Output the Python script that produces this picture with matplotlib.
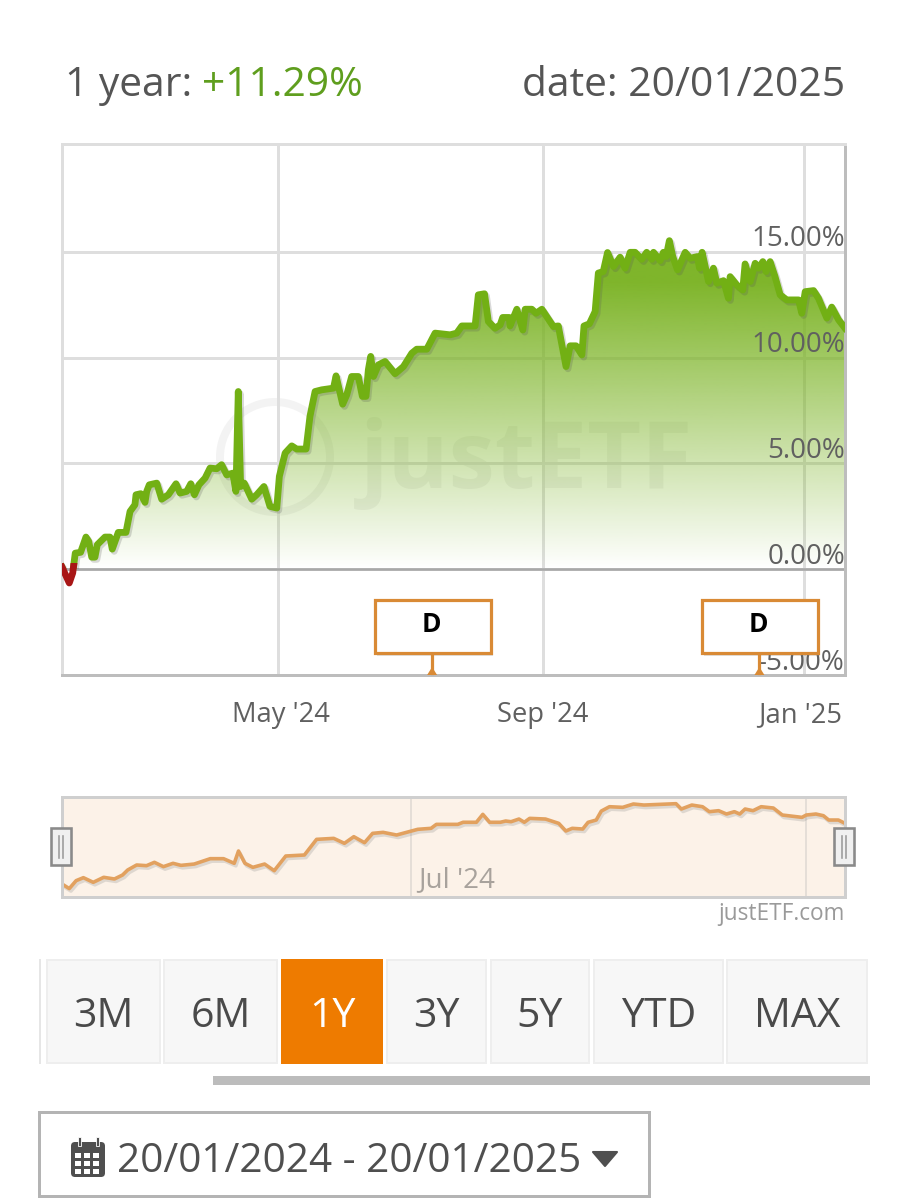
import matplotlib
matplotlib.use("Agg")
import numpy as np
import matplotlib.pyplot as plt
from matplotlib.patches import Rectangle, Circle, Polygon, PathPatch, FancyBboxPatch
from matplotlib.path import Path
import matplotlib.patheffects as pe

plt.rcParams['font.family'] = ['Open Sans', 'DejaVu Sans']

# ---------- data ----------
days = [0, 3.4, 5, 6.2, 8.7, 11.2, 12.5, 13.9, 15.4, 16.5, 20.1, 22.4, 23.5, 26.3, 29.9, 31.8, 34.1, 34.6, 36.8,
        38.8, 39.6, 40.8, 44.3, 46.6, 49.7, 53.3, 55.2, 58.3, 60.2, 61.9, 64, 66.9, 69.2, 72.3, 74.6, 77, 79.8,
        81.3, 82.4, 83.5, 85.2, 88.7, 91, 94.4, 97.2, 100.4, 101.6, 104.3, 107.4, 109.7, 114.1, 115.9, 118.3,
        121.4, 126.9, 128.1, 130, 131.2, 133.1, 135.4, 138.5, 140.4, 142.1, 143.2, 144.3, 145.6, 147.9, 151,
        155.7, 159.6, 163.5, 165.8, 170.5, 174.4, 181.4, 184.5, 186.9, 193.1, 194.6, 197.5, 199.3, 202.4, 204.8,
        206, 209.1, 209.4, 212.6, 215.4, 216.5, 219.6, 221.6, 224.3, 226.6, 229.7, 232, 235.6, 237.5, 240.3, 243,
        244, 246.5, 249.2, 250.7, 253, 255, 257.8, 260.9, 263.2, 265.6, 267.9, 271, 273.3, 275.7, 276.5, 279.6,
        281.1, 282.4, 283.9, 285.5, 287.7, 291.3, 293.6, 297, 298, 299.2, 302.2, 304.5, 306.1, 309.2, 311.5,
        312.3, 315.4, 318.2, 319.3, 321.7, 324, 325.6, 327.6, 329.1, 331, 333.3, 335.7, 338.8, 344.3, 345.8,
        347.4, 351.3, 353.6, 357.5, 359.8, 363, 366]
returns = [0.10, -0.65, -0.18, 0.76, 0.80, 1.52, 1.31, 0.57, 0.57, 1.16, 1.52, 1.52, 0.95, 1.74, 1.74, 2.73, 3.05,
           3.52, 3.57, 3.16, 3.68, 3.99, 4.07, 3.31, 3.52, 4.04, 3.60, 3.68, 4.04, 3.52, 3.99, 4.31, 4.78, 4.75,
           4.94, 4.46, 4.54, 3.68, 8.40, 3.91, 4.07, 3.31, 3.52, 3.91, 2.97, 2.89, 4.39, 5.49, 5.83, 5.68, 5.68,
           7.22, 8.40, 8.48, 8.56, 9.14, 8.32, 7.80, 8.24, 9.11, 9.11, 8.17, 8.17, 9.43, 10.06, 9.11, 9.66, 9.82,
           9.24, 9.58, 10.21, 10.40, 10.40, 11.16, 11.08, 11.16, 11.50, 11.50, 12.97, 13.02, 11.71, 11.39, 11.55,
           11.90, 11.90, 11.50, 12.29, 11.31, 12.29, 12.29, 12.10, 12.29, 11.94, 11.47, 11.50, 9.58, 10.56, 10.56,
           10.13, 11.50, 11.60, 12.18, 14.0, 14.07, 14.97, 14.31, 14.75, 14.23, 14.98, 14.98, 14.65, 14.98, 14.65,
           14.98, 14.59, 14.98, 14.78, 15.53, 14.78, 14.15, 14.98, 14.70, 14.78, 14.23, 14.98, 13.60, 14.23, 13.52,
           13.64, 12.81, 13.83, 13.44, 13.20, 14.43, 13.60, 14.46, 14.23, 14.54, 14.07, 14.54, 13.83, 12.97, 12.73,
           12.73, 12.10, 13.12, 13.17, 12.81, 11.87, 12.39, 11.79, 11.40]

nav_days = [0, 3.4, 6.6, 10, 14.6, 19.5, 24.5, 28.3, 30.7, 34.9, 39.5, 43.2, 47.4, 51.9, 55.6, 61.8, 69.3, 75.5,
            80.5, 82.5, 85.5, 89.2, 94.7, 99.2, 104.6, 113.3, 119, 127, 132, 136.4, 141.4, 145.2, 150.1, 156.4,
            166.3, 172.5, 175, 185, 187.5, 193.7, 196.7, 199.9, 204.9, 207.4, 209.9, 213.6, 216.1, 218.6, 226,
            232.2, 235.5, 238.5, 243.4, 245.9, 249.7, 252.1, 255.9, 262.1, 267.1, 272, 287, 289.5, 294.4, 299.4,
            302.6, 306.9, 310.6, 314.3, 316.8, 319.3, 323, 326.8, 332.5, 336.7, 345.9, 347.9, 352.4, 355.9, 358.4,
            362.9, 366]
nav_returns = [0.18, -0.7, 0.82, 1.39, 0.50, 1.46, 1.14, 1.90, 2.86, 3.82, 3.69, 4.33, 3.50, 4.14, 3.75, 4.0, 5.03,
               5.03, 4.14, 6.50, 4.14, 3.37, 4.0, 2.73, 5.54, 5.73, 8.73, 8.92, 7.97, 9.24, 8.09, 9.88, 10.07, 9.56,
               10.65, 10.84, 11.6, 11.6, 12.0, 12.0, 13.52, 12.0, 12.0, 12.24, 12.11, 12.62, 12.0, 12.75, 12.62,
               11.79, 10.33, 10.84, 10.71, 11.99, 12.43, 14.15, 14.98, 14.86, 15.5, 15.3, 15.56, 14.54, 15.3, 14.98,
               14.03, 14.22, 13.58, 14.03, 13.58, 14.54, 14.22, 14.98, 14.73, 13.39, 12.94, 13.39, 13.58, 13.26,
               12.43, 12.43, 11.79]

ytick_values = [-5, 0, 5, 10, 15]
ytick_labels = ['-5.00%', '0.00%', '5.00%', '10.00%', '15.00%']
xtick_days = [101, 224.9, 347]
xtick_labels = ["May '24", "Sep '24", "Jan '25"]
nav_tick_days = [163, 348]
nav_tick_labels = ["Jul '24", ""]
flag_days = [173, 326]
flag_labels = ['D', 'D']
range_buttons = ['3M', '6M', '1Y', '3Y', '5Y', 'YTD', 'MAX']
active_range = '1Y'
period_return = '+11.29%'
date_text = 'date: 20/01/2025'
date_range = '20/01/2024 - 20/01/2025'

# ---------- figure ----------
W, H = 908, 1200
fig = plt.figure(figsize=(W / 100, H / 100), dpi=100, facecolor='white')


def axpx(x0, y0, x1, y1, **kw):
    return fig.add_axes([x0 / W, 1 - y1 / H, (x1 - x0) / W, (y1 - y0) / H], **kw)


GREY = '#606060'
GRID = '#dedede'
px = 72 / 100  # points per pixel

# ---------- main chart ----------
ax = axpx(62, 144, 845, 675)
ax.set_xlim(0, 366)
ax.set_ylim(-5, 20.1)
ax.set_yticks(ytick_values)
ax.set_xticks(xtick_days)
ax.set_xticklabels([])
ax.tick_params(length=0, labelleft=False)
ax.grid(True, color=GRID, lw=3 * px, zorder=0)
ax.set_axisbelow(True)
for name, col in (('left', GRID), ('top', GRID), ('right', '#bdbdbd'), ('bottom', '#bdbdbd')):
    ax.spines[name].set_color(col)
    ax.spines[name].set_linewidth(3 * px)
ax.axhline(0, color='#a8a8a8', lw=2.6 * px, zorder=1)

# gradient fill clipped to the area under the line
x_arr, y_arr = np.array(days), np.array(returns)
verts = np.vstack([[x_arr[0], 0], np.column_stack([x_arr, np.maximum(y_arr, 0)]), [x_arr[-1], 0]])
area = PathPatch(Path(verts), fc='none', ec='none', transform=ax.transData)
ax.add_patch(area)
grad = np.zeros((256, 1, 4))
grad[..., :3] = matplotlib.colors.to_rgb('#7bb324')
grad[:, 0, 3] = np.clip(np.linspace(1.12, 0, 256), 0, 0.97) ** 1.0
im = ax.imshow(grad, extent=(0, 366, 0, 15.6), aspect='auto', origin='upper', zorder=2)
im.set_clip_path(area)
ax.set_xlim(0, 366)
ax.set_ylim(-5, 20.1)

# watermark
fig.add_artist(Circle((275, H - 457), 55, transform=None, fc='none', ec='#8c8c8c', alpha=0.10, lw=8 * px, zorder=2.5))
fig.text(360 / W, 1 - 488 / H, 'justETF', fontsize=67, fontweight='bold', color='#808080', alpha=0.10, zorder=2.5)
ax.set_zorder(3)
ax.patch.set_alpha(0)

# line: green above zero, red below
shadow = [pe.SimpleLineShadow(offset=(1.4, -1.6), shadow_color='#555555', alpha=0.22), pe.Normal()]
g, = ax.plot(days, returns, color='#72b014', lw=6.8 * px, solid_joinstyle='round', zorder=4, path_effects=shadow)
g.set_clip_path(Rectangle((0, 0), 366, 30, transform=ax.transData))
r, = ax.plot(days, returns, color='#a81616', lw=6.8 * px, solid_joinstyle='round', zorder=4)
r.set_clip_path(Rectangle((0, -6), 366, 6.3, transform=ax.transData))

# axis texts
for v, t in zip(ytick_values, ytick_labels):
    ax.annotate(t, xy=(1, v), xycoords=('axes fraction', 'data'), xytext=(0, 5.5), textcoords='offset pixels',
                ha='right', va='baseline', fontsize=20, color=GREY, zorder=6, annotation_clip=False)
for d, t, dx in zip(xtick_days, xtick_labels, (3, 0, -4)):
    ax.annotate(t, xy=(d, 0), xycoords=('data', 'axes fraction'), xytext=(dx, -47), textcoords='offset pixels',
                ha='center', va='baseline', fontsize=19.7, color=GREY, annotation_clip=False)

# overlay in pixel coordinates
ov = fig.add_axes([0, 0, 1, 1], facecolor='none')
ov.set_xlim(0, W)
ov.set_ylim(H, 0)
ov.axis('off')
ov.set_zorder(5)

# dividend flags
fig.canvas.draw()
for d, t in zip(flag_days, flag_labels):
    xp = ax.transData.transform((d, -5))[0]
    ov.plot([xp, xp], [653, 673], color='#d98a35', lw=3.2 * px, zorder=3)
    ov.add_patch(Polygon([[xp - 5, 675], [xp + 5, 675], [xp, 667]], fc='#d98a35', ec='none', zorder=3))
    ov.add_patch(Rectangle((xp - 57 + 2, 600 + 3), 116, 53, fc='#777777', ec='none', alpha=0.22, zorder=2.8))
    ov.add_patch(Rectangle((xp - 57, 600), 116, 53, fc='white', ec='#d98a35', lw=3.2 * px, zorder=3))
    ov.text(xp - 1, 625, t, fontsize=19, fontweight='bold', color='black', ha='center', va='center', zorder=4)

# ---------- navigator ----------
nav = axpx(62, 797, 845, 897)
nav.set_xlim(0, 366)
nav.set_ylim(-2.31, 16.84)
nav.set_facecolor('#fcf2e8')
nav.set_xticks(nav_tick_days)
nav.set_xticklabels([])
nav.set_yticks([])
nav.tick_params(length=0)
nav.grid(True, axis='x', color='#e0dad3', lw=1.6 * px)
nav.set_axisbelow(True)
for s in nav.spines.values():
    s.set_color('#cfcfcf')
    s.set_linewidth(3 * px)
nav.plot(nav_days, nav_returns, color='#e2a15f', lw=3.6 * px, solid_joinstyle='round',
         path_effects=[pe.SimpleLineShadow(offset=(1.2, -1.8), shadow_color='#888888', alpha=0.25), pe.Normal()])
for d, t in zip(nav_tick_days, nav_tick_labels):
    if t:
        nav.annotate(t, xy=(d, 0), xycoords=('data', 'axes fraction'), xytext=(7, 10), textcoords='offset pixels',
                     ha='left', va='baseline', fontsize=20, color='#a8a29c')
ov.text(845, 914, 'justETF.com', fontsize=16.3, color='#9a9a9a', ha='right', va='center')
for x0 in (51, 834):
    ov.add_patch(Rectangle((x0, 828), 20, 37, fc='#f0f0f0', ec='#8a8a8a', lw=2.6 * px, zorder=6))
    ov.plot([x0 + 8, x0 + 8], [836, 858], color='#9a9a9a', lw=1.6 * px, zorder=7)
    ov.plot([x0 + 12, x0 + 12], [836, 858], color='#9a9a9a', lw=1.6 * px, zorder=7)

# ---------- header ----------
ov.text(65, 96, '1 year:', fontsize=29.3, color='#555555', ha='left', va='baseline')
ov.text(202, 96, period_return, fontsize=29.3, color='#5f9e1e', ha='left', va='baseline')
ov.text(845, 96, date_text, fontsize=29.3, color='#555555', ha='right', va='baseline')

# ---------- range buttons ----------
btn_spans = [(47, 160), (164, 277), (282, 382), (387, 486), (491, 589), (594, 723), (727, 867)]
ov.plot([40, 40], [960, 1063], color='#e6e6e6', lw=2 * px)
for (x0, x1), t in zip(btn_spans, range_buttons):
    on = t == active_range
    ov.add_patch(Rectangle((x0, 960), x1 - x0, 103, fc='#ee7b00' if on else '#f7f7f7',
                           ec='#ee7b00' if on else '#eeeeee', lw=2 * px))
    ov.text((x0 + x1) / 2, 1027, t, fontsize=29.5, color='white' if on else '#4a4a4a', ha='center', va='baseline')
ov.add_patch(Rectangle((213, 1076), 657, 9, fc='#bcbcbc', ec='none'))

# ---------- date range box ----------
ov.add_patch(Rectangle((39, 1112), 610, 84, fc='white', ec='#b4b4b4', lw=3 * px))
ov.text(117, 1172, date_range, fontsize=29.2, color='#4f4f4f', ha='left', va='baseline')
ov.add_patch(Polygon([[593, 1152], [617, 1152], [605, 1166]], closed=True, fc='#4f4f4f', ec='#4f4f4f', lw=1.5, joinstyle='round'))
ov.add_patch(FancyBboxPatch((71, 1142), 34, 35, boxstyle='round,pad=0,rounding_size=4', fc='#4f4f4f', ec='none'))
for xb in (79, 97):
    ov.add_patch(Rectangle((xb - 1.5, 1137), 3.5, 9, fc='#4f4f4f', ec='white', lw=0.6))
for row in (1153, 1161, 1169):
    for col in (75, 84, 93):
        ov.add_patch(Rectangle((col, row), 6, 5, fc='white', ec='none'))

fig.savefig('out.png', dpi=100, facecolor='white')
